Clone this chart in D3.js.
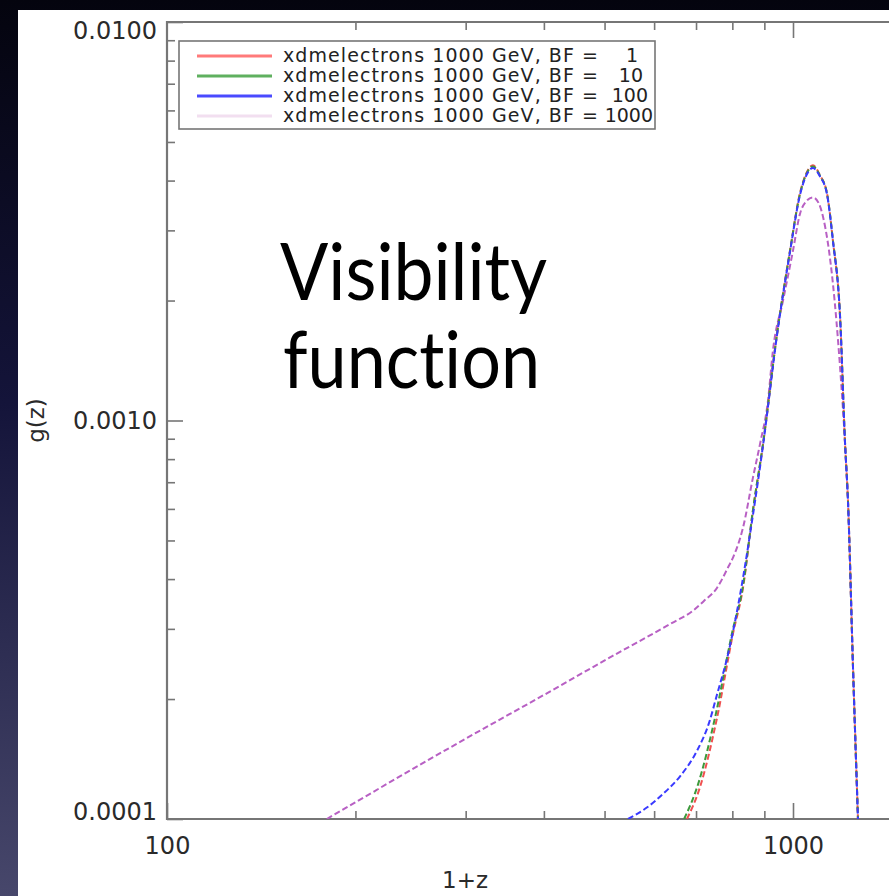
<!DOCTYPE html>
<html><head><meta charset="utf-8">
<script src="https://cdn.jsdelivr.net/npm/d3@7"></script>
<style>html,body{margin:0;padding:0;background:#000;overflow:hidden}svg{display:block}</style>
</head><body><svg id="c" width="889" height="896"></svg>
<script>
// ---- data ----
const legendPrefix = "xdmelectrons 1000 GeV, BF =";
const bfLabels = ["1", "10", "100", "1000"];

const bf1X = [677, 710, 756, 802, 832, 863, 896, 943, 989, 1026, 1050, 1076, 1104, 1133, 1158, 1189, 1211, 1224, 1247, 1270];
const bf1G = [1.0e-4, 1.2e-4, 1.79e-4, 2.92e-4, 3.8e-4, 5.94e-4, 8.75e-4, 1.65e-3, 2.67e-3, 3.72e-3, 4.17e-3, 4.37e-3, 4.13e-3, 3.72e-3, 2.83e-3, 1.82e-3, 8.75e-4, 6.3e-4, 2.4e-4, 1.0e-4];

const bf10X = [670, 705, 752, 800, 832, 863, 896, 943, 989, 1026, 1050, 1076, 1104, 1133, 1158, 1189, 1211, 1224, 1247, 1270];
const bf10G = [1.0e-4, 1.22e-4, 1.82e-4, 2.95e-4, 3.85e-4, 5.96e-4, 8.8e-4, 1.65e-3, 2.66e-3, 3.70e-3, 4.15e-3, 4.34e-3, 4.12e-3, 3.72e-3, 2.84e-3, 1.83e-3, 8.8e-4, 6.3e-4, 2.4e-4, 1.0e-4];

const bf100X = [545, 585, 620, 660, 702, 735, 756, 787, 823, 863, 896, 943, 989, 1026, 1050, 1076, 1104, 1133, 1158, 1189, 1211, 1224, 1247, 1270];
const bf100G = [1.0e-4, 1.07e-4, 1.156e-4, 1.28e-4, 1.48e-4, 1.75e-4, 2.05e-4, 2.58e-4, 3.65e-4, 5.79e-4, 8.7e-4, 1.64e-3, 2.65e-3, 3.68e-3, 4.12e-3, 4.3e-3, 4.1e-3, 3.7e-3, 2.83e-3, 1.82e-3, 8.75e-4, 6.3e-4, 2.4e-4, 1.0e-4];

const bf1000X = [180, 302, 405, 516, 640, 692, 720, 756, 787, 802, 832, 863, 886, 912, 929, 964, 1000, 1026, 1050, 1076, 1100, 1117, 1158, 1189, 1211, 1224, 1247, 1270];
const bf1000G = [1.0e-4, 1.6e-4, 2.07e-4, 2.57e-4, 3.1e-4, 3.33e-4, 3.52e-4, 3.8e-4, 4.27e-4, 4.53e-4, 5.38e-4, 7.19e-4, 8.75e-4, 1.12e-3, 1.5e-3, 2.0e-3, 2.67e-3, 3.3e-3, 3.55e-3, 3.63e-3, 3.5e-3, 3.24e-3, 2.21e-3, 1.36e-3, 8.75e-4, 6.3e-4, 2.4e-4, 1.0e-4];

const yMajor = [1e-4, 1e-3, 1e-2];
const yMinor = [2e-4,3e-4,4e-4,5e-4,6e-4,7e-4,8e-4,9e-4,2e-3,3e-3,4e-3,5e-3,6e-3,7e-3,8e-3,9e-3];
const xMajor = [100, 1000];
const xMinor = [200,300,400,500,600,700,800,900,2000];

const lineColors = ["#f05050", "#3c9a3c", "#3a3aff", "#b860c4"];
const legendColors = ["#ff7a7a", "#5fb05f", "#4a4aff", "#f2dff0"];

// ---- drawing ----
const svg = d3.select("#c");
const defs = svg.append("defs");
const grad = defs.append("linearGradient").attr("id","bg").attr("x1",0).attr("y1",0).attr("x2",0).attr("y2",1);
grad.append("stop").attr("offset","0%").attr("stop-color","#04040e");
grad.append("stop").attr("offset","45%").attr("stop-color","#14143a");
grad.append("stop").attr("offset","100%").attr("stop-color","#47476b");
svg.append("rect").attr("width",889).attr("height",896).attr("fill","url(#bg)");
svg.append("rect").attr("x",18).attr("y",10).attr("width",871).attr("height",886).attr("fill","#fff");

const x = d3.scaleLog().domain([100, 1000]).range([167, 793]);
const y = d3.scaleLog().domain([1e-4, 1e-2]).range([819, 22]);
const xEnd = x(3000);

const font = "'DejaVu Sans', sans-serif";
const axisCol = "#767676";

defs.append("clipPath").attr("id","plot").append("rect")
  .attr("x", x(100)).attr("y", y(1e-2)).attr("width", xEnd - x(100)).attr("height", y(1e-4) - y(1e-2));

function styleAxis(g){
  g.select(".domain").remove();
  g.selectAll(".tick line").attr("stroke", axisCol).attr("stroke-width", 1.6);
  g.selectAll(".tick text").attr("fill", "#2a2a2a").style("font-family", font).style("font-size", "24px");
}

// left axis
svg.append("g").attr("transform", `translate(${x(100)},0)`)
  .call(d3.axisLeft(y).tickValues(yMajor).tickSize(-16).tickPadding(10).tickFormat(d3.format(".4f")))
  .call(styleAxis)
  .call(g => g.selectAll(".tick text").attr("dy", d => d === 1e-2 ? "0.68em" : d === 1e-4 ? "0" : "0.32em"));
svg.append("g").attr("transform", `translate(${x(100)},0)`)
  .call(d3.axisLeft(y).tickValues(yMinor).tickSize(-8).tickFormat(""))
  .call(styleAxis);
// bottom axis
svg.append("g").attr("transform", `translate(0,${y(1e-4)})`)
  .call(d3.axisBottom(x).tickValues(xMajor).tickSize(-16).tickPadding(18).tickFormat(d3.format("d")))
  .call(styleAxis);
svg.append("g").attr("transform", `translate(0,${y(1e-4)})`)
  .call(d3.axisBottom(x).tickValues(xMinor).tickSize(-8).tickFormat(""))
  .call(styleAxis);
// top axis
svg.append("g").attr("transform", `translate(0,${y(1e-2)})`)
  .call(d3.axisTop(x).tickValues([1000]).tickSize(-16).tickFormat(""))
  .call(styleAxis);
svg.append("g").attr("transform", `translate(0,${y(1e-2)})`)
  .call(d3.axisTop(x).tickValues(xMinor).tickSize(-8).tickFormat(""))
  .call(styleAxis);

// frame
const frame = svg.append("g").attr("stroke", axisCol).attr("stroke-width", 2.2).attr("fill","none");
frame.append("path").attr("d", `M${xEnd},${y(1e-2)}H${x(100)}V${y(1e-4)}H${xEnd}`);

// axis titles
svg.append("text").attr("transform", `translate(44,${y(1e-3)}) rotate(-90)`)
  .attr("text-anchor","middle").style("font-family", font).style("font-size","23px").attr("fill","#2a2a2a").text("g(z)");
svg.append("text").attr("x", 465).attr("y", 888)
  .attr("text-anchor","middle").style("font-family", font).style("font-size","23px").attr("fill","#2a2a2a").text("1+z");

// curves
const series = [
  {x: bf1000X, g: bf1000G, i: 3},
  {x: bf1X, g: bf1G, i: 0},
  {x: bf10X, g: bf10G, i: 1},
  {x: bf100X, g: bf100G, i: 2}
];
const line = d3.line().x(d => x(d[0])).y(d => y(d[1])).curve(d3.curveMonotoneX);
const plot = svg.append("g").attr("clip-path","url(#plot)");
series.forEach(s => {
  plot.append("path").datum(d3.zip(s.x, s.g))
    .attr("d", line).attr("fill","none")
    .attr("stroke", lineColors[s.i]).attr("stroke-width", 2)
    .attr("stroke-dasharray", "6,3");
});

// legend
const leg = svg.append("g");
leg.append("rect").attr("x",179).attr("y",41).attr("width",476).attr("height",88)
  .attr("fill","#fff").attr("stroke", axisCol).attr("stroke-width",1.6);
bfLabels.forEach((b, i) => {
  const ly = 56 + i * 20;
  leg.append("line").attr("x1",197).attr("x2",272).attr("y1",ly).attr("y2",ly)
    .attr("stroke", legendColors[i]).attr("stroke-width",3);
  leg.append("text").attr("x",283).attr("y",ly+6).attr("textLength",315).attr("lengthAdjust","spacing")
    .style("font-family", font).style("font-size","19px").attr("fill","#222").text(legendPrefix);
  leg.append("text").attr("x", 653 - 5*(4 - b.length)).attr("y", ly+6).attr("text-anchor","end")
    .style("font-family", font).style("font-size","19px").attr("fill","#222").text(b);
});

// slide annotation
const ann = svg.append("g").style("font-family","'Lato', 'Open Sans', sans-serif").style("font-size","80px")
  .style("font-variant-ligatures","none").style("font-feature-settings","'liga' 0, 'clig' 0").attr("fill","#000");
ann.append("text").attr("x",280).attr("y",300).attr("textLength",267).attr("lengthAdjust","spacingAndGlyphs").text("Visibility");
ann.append("text").attr("x",283).attr("y",388).attr("textLength",257).attr("lengthAdjust","spacingAndGlyphs").text("function");
</script>
</body></html>
